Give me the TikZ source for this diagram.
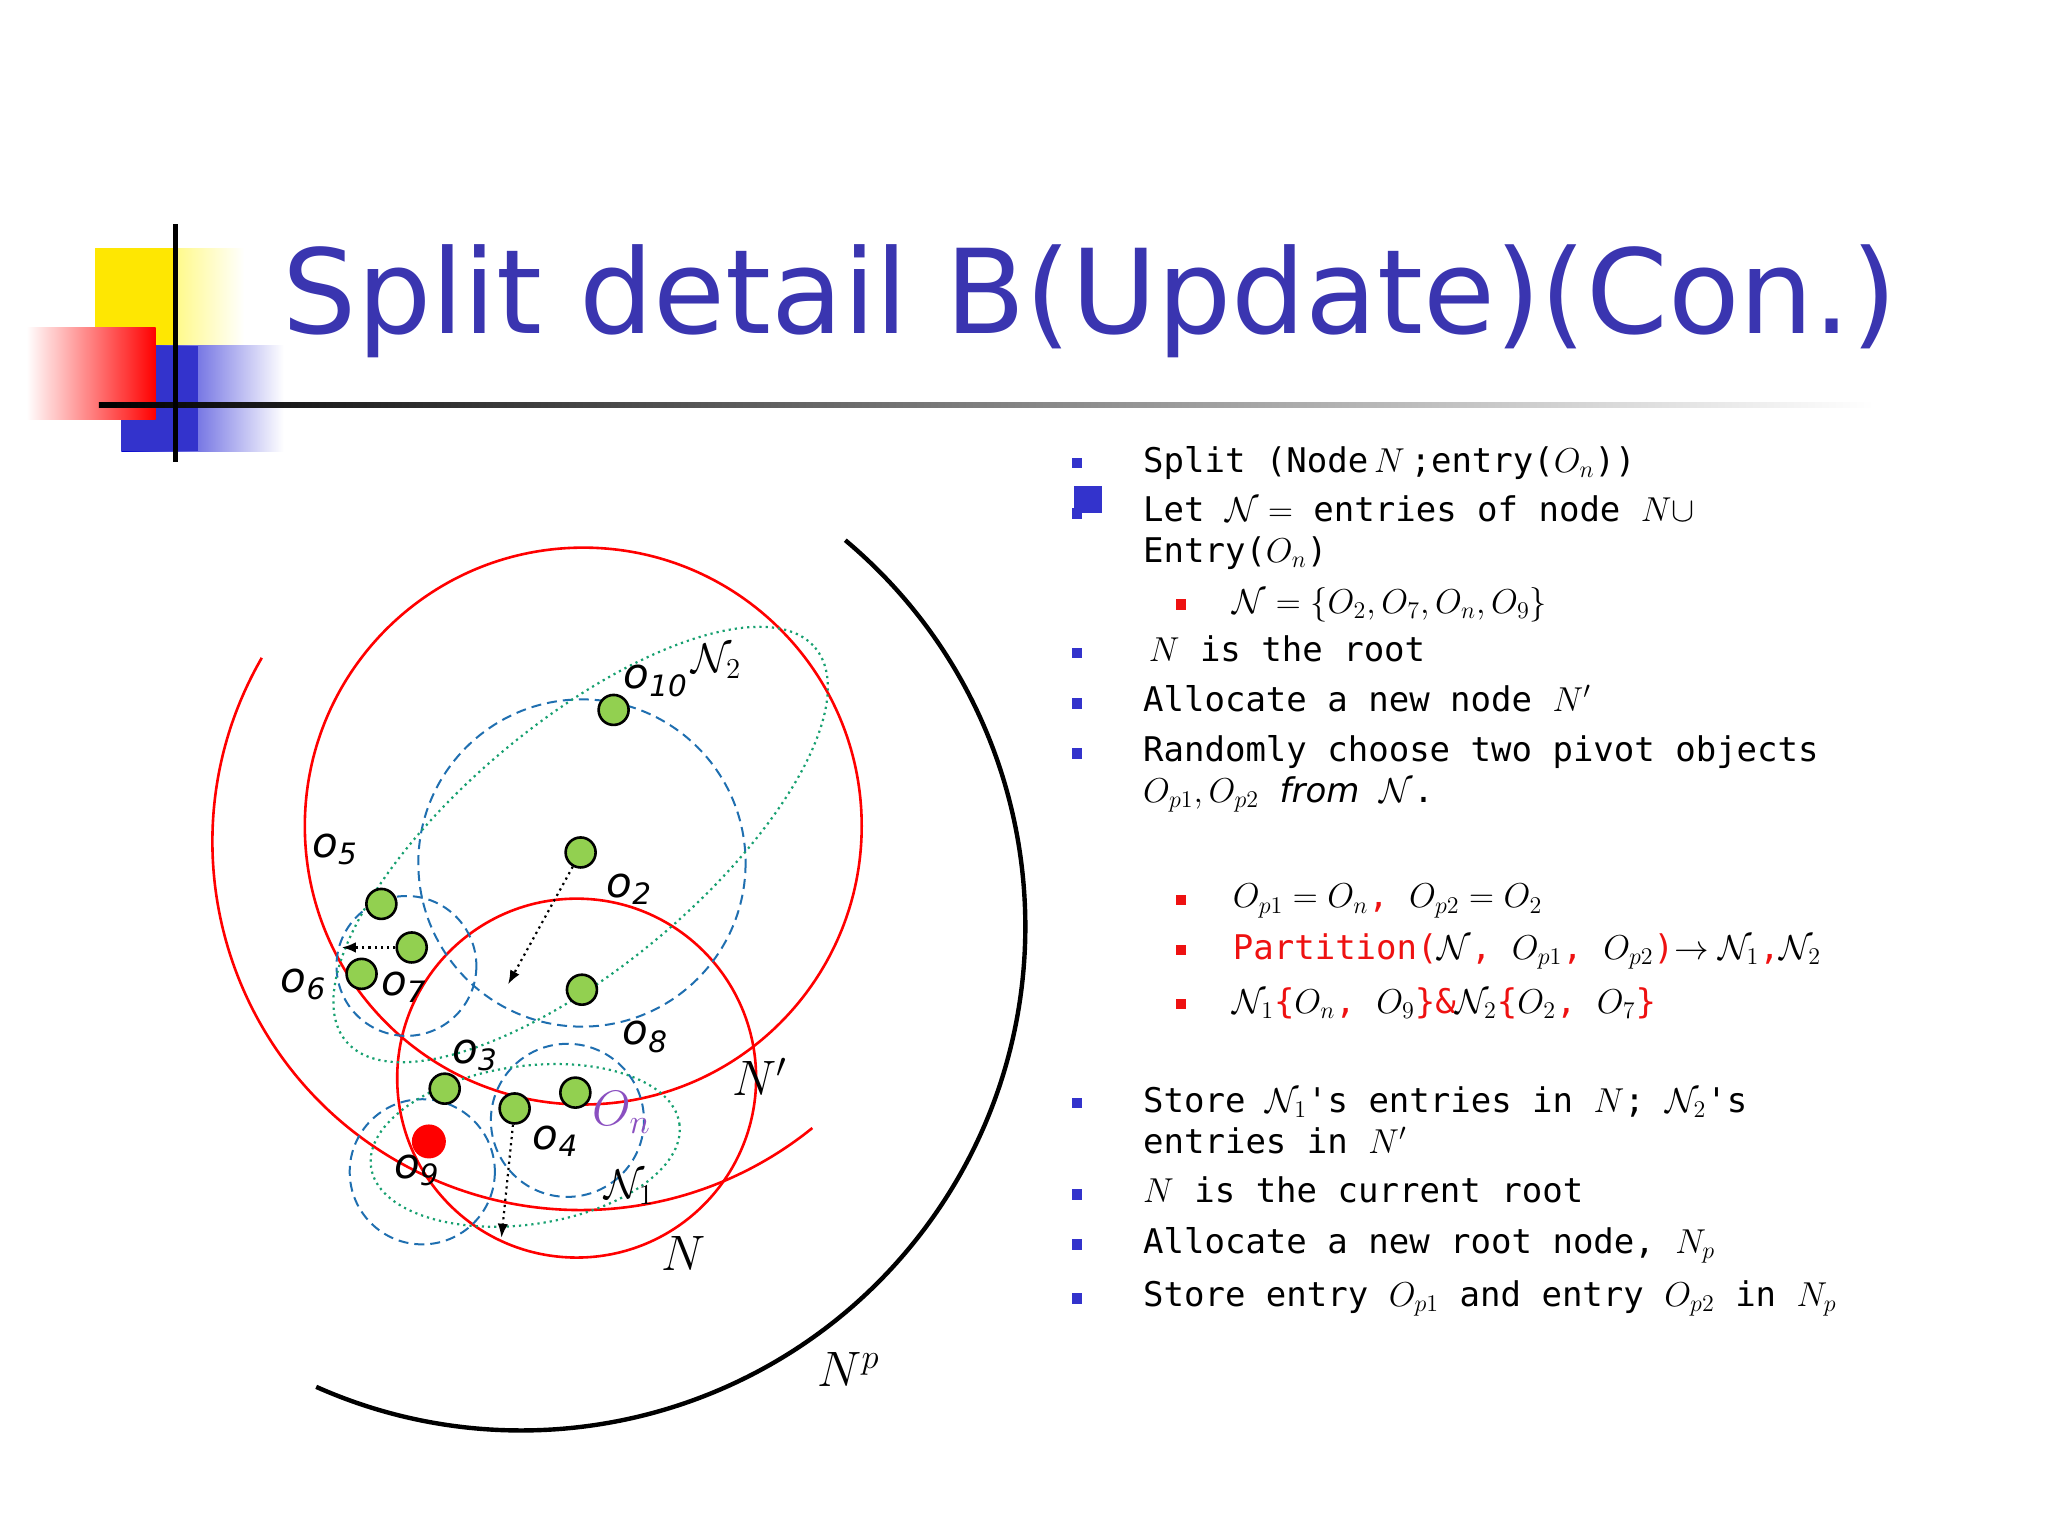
\documentclass[tikz,border=0pt]{standalone}
\usepackage{fontspec}
\setmainfont{DejaVu Sans}
\newfontfamily\monof{DejaVu Sans Mono}
\newfontfamily\titlef{DejaVu Sans}
\usetikzlibrary{arrows.meta}
\definecolor{tblue}{HTML}{3A35B0}
\definecolor{bblue}{HTML}{3333CC}
\definecolor{rred}{HTML}{EE1111}
\definecolor{ptgreen}{HTML}{92D050}
\definecolor{dblue}{HTML}{1F6FB0}
\definecolor{dgreen}{HTML}{17A070}
\definecolor{onpurple}{HTML}{8A4FC0}
\begin{document}
\begin{tikzpicture}[x=0.6598pt,y=-0.6598pt,
  pt/.style={circle,draw=black,line width=1.3pt,fill=ptgreen,minimum size=15pt,inner sep=0pt},
  lab/.style={font=\fontsize{21}{21}\selectfont\itshape},
  redc/.style={draw=red,line width=1.3pt},
  bdash/.style={draw=dblue,dashed,line width=1pt,dash pattern=on 5pt off 3pt},
  gdot/.style={draw=dgreen,dotted,line width=1.1pt},
  darr/.style={dotted,line width=1.1pt,-{Latex[length=7pt]}},
  txt/.style={anchor=base west,inner sep=0pt,font=\monof\fontsize{17}{20}\selectfont},
  bul/.style={fill=bblue},
  rbul/.style={fill=rred}]
\useasboundingbox (0,0) rectangle (1552,1164);
\fill[white] (0,0) rectangle (1552,1164);
% decorations
\shade[left color=yellow!90!orange,right color=white] (72,188) rectangle (185,262);
\fill[yellow!90!orange] (72,188) rectangle (133,262);
\shade[left color=blue!80!black,right color=white] (92,262) rectangle (215,342);
\fill[bblue] (92,262) rectangle (150,342);
\shade[left color=white,right color=red] (20,248) rectangle (118,318);
\shade[left color=black,right color=white] (75,305) rectangle (1420,309);
\draw[line width=2.5pt] (133,170) -- (133,350);
\node[anchor=base west,inner sep=0pt,text=tblue,font=\titlef\fontsize{58.5}{60}\selectfont] (title) at (214,253) {Split detail B(Update)(Con.)};
% black arc Np
\draw[line width=2.2pt] (395,702) ++(-50:382) arc[start angle=-50,end angle=114,radius=382];
% red circles
\draw[redc] (442,626) circle (211);
\draw[redc] (437,817) circle (136);
\draw[redc] (440,638) ++(210:279) arc[start angle=210,end angle=51,radius=279];
% blue dashed
\draw[bdash] (441,654) circle (124);
\draw[bdash] (308,732) circle (53);
\draw[bdash] (320,888) circle (55);
\draw[bdash] (430,849) circle (58);
% green dotted ellipses
\draw[gdot,rotate around={40:(440,640)}] (440,640) ellipse[x radius=232,y radius=92];
\draw[gdot,rotate around={8:(398,868)}] (398,868) ellipse[x radius=118,y radius=60];
% points
\node[pt] (o10) at (465,538) {};
\node[pt] (o2) at (440,646) {};
\node[pt] (o5) at (289,685) {};
\node[pt] (o7) at (312,718) {};
\node[pt] (o6) at (274,738) {};
\node[pt] (o8) at (441,750) {};
\node[pt] (o3) at (337,825) {};
\node[pt] (o4) at (390,840) {};
\node[pt] (on) at (436,828) {};
\node[circle,fill=red,minimum size=17pt,inner sep=0pt] (o9) at (325,865) {};
\coordinate (a2) at (385,746);
\coordinate (a4) at (380,938);
\coordinate (a7) at (259,718);
\draw[darr] (o2) -- (a2);
\draw[darr] (o4) -- (a4);
\draw[darr] (o7) -- (a7);
% labels
\node[lab] (l10) at (497,516) {o\textsubscript{10}};
\node[lab] (l2) at (477,674) {o\textsubscript{2}};
\node[lab] (l5) at (254,644) {o\textsubscript{5}};
\node[lab] (l6) at (230,746) {o\textsubscript{6}};
\node[lab] (l7) at (306,748) {o\textsubscript{7}};
\node[lab] (l8) at (489,786) {o\textsubscript{8}};
\node[lab] (l3) at (360,800) {o\textsubscript{3}};
\node[lab] (l4) at (421,865) {o\textsubscript{4}};
\node[lab] (l9) at (316,887) {o\textsubscript{9}};
\node[text=onpurple,font=\fontsize{26}{26}\selectfont] (lon) at (471,843) {$O_n$};
\node[font=\fontsize{20}{20}\selectfont] (ln2) at (543,501) {$\mathcal{N}_2$};
\node[font=\fontsize{20}{20}\selectfont] (ln1) at (477,900) {$\mathcal{N}_1$};
\node[font=\fontsize{27}{27}\selectfont] (lnp) at (576,816) {$N'$};
\node[font=\fontsize{27}{27}\selectfont] (ln) at (518,950) {$N$};
\node[font=\fontsize{27}{27}\selectfont] (lnpp) at (643,1038) {$N^p$};
% bullets
\foreach \y in {351,495,533,571,836,905,943,984}{\fill[bul] (812,\y-4) rectangle (820,\y+4);}
\fill[bul] (814,368) rectangle (835,389);
\fill[bul] (812,385) rectangle (820,393);
\foreach \y in {458,682,720,761}{\fill[rbul] (891,\y-4) rectangle (899,\y+4);}
% text
\node[txt] (t1) at (866,358) {Split (Node$\,N\,$;entry($O_n$))};
\node[txt] (t2) at (866,395) {Let $\mathcal{N}=$ entries of node $N\cup$};
\node[txt] (t3) at (866,426) {Entry($O_n$)};
\node[txt] (t4) at (934,465) {$\mathcal{N}=\{O_2,O_7,O_n,O_9\}$};
\node[txt] (t5) at (866,501) {\,$N$ is the root};
\node[txt] (t6) at (866,539) {Allocate a new node $N'$};
\node[txt] (t7) at (866,577) {Randomly choose two pivot objects};
\node[txt] (t8) at (866,608) {$O_{p1},O_{p2}\ \mathit{from}\ \mathcal{N}$.};
\node[txt] (t9) at (934,688) {$O_{p1}=O_n$\textcolor{rred}{,} $O_{p2}=O_2$};
\node[txt,text=rred] (t10) at (934,727) {Partition(\textcolor{black}{$\mathcal{N}$}, \textcolor{black}{$O_{p1}$}, \textcolor{black}{$O_{p2}$})\textcolor{black}{$\rightarrow\mathcal{N}_1$},\textcolor{black}{$\mathcal{N}_2$}};
\node[txt,text=rred] (t11) at (934,768) {\textcolor{black}{$\mathcal{N}_1$}\{\textcolor{black}{$O_n$}, \textcolor{black}{$O_9$}\}\&\textcolor{black}{$\mathcal{N}_2$}\{\textcolor{black}{$O_2$}, \textcolor{black}{$O_7$}\}};
\node[txt] (t12) at (866,843) {Store $\mathcal{N}_1$'s entries in $N$; $\mathcal{N}_2$'s};
\node[txt] (t13) at (866,874) {entries in $N'$};
\node[txt] (t14) at (866,911) {$N$ is the current root};
\node[txt] (t15) at (866,950) {Allocate a new root node, $N_p$};
\node[txt] (t16) at (866,990) {Store entry $O_{p1}$ and entry $O_{p2}$ in $N_p$};
\end{tikzpicture}
\end{document}
